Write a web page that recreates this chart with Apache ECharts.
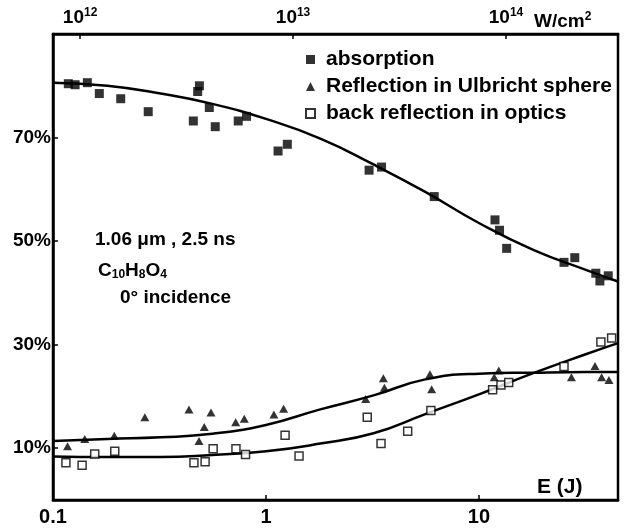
<!DOCTYPE html>
<html>
<head>
<meta charset="utf-8">
<script src="https://cdn.jsdelivr.net/npm/echarts@6/dist/echarts.min.js"></script>
<style>
  html, body { margin: 0; padding: 0; background: #fff; }
  #chart { width: 626px; height: 529px; }
</style>
</head>
<body>
<div id="chart"></div>
<script>
// ---- Data ----
const E_MIN = 0.1;            // J
const E_MAX = 45;             // J
const INTENSITY_PER_J = 7.46e12; // W/cm^2 per J (top axis scale)

const xTickValues = [0.1, 1, 10];
const topTickValues = [1e12, 1e13, 1e14];
const yTickValues = [10, 30, 50, 70];

const seriesNames = ['absorption', 'Reflection in Ulbricht sphere', 'back reflection in optics'];

const absorption = [
  [0.118, 80.4], [0.127, 80.2], [0.145, 80.6], [0.165, 78.5], [0.208, 77.5],
  [0.280, 75.0], [0.456, 73.2], [0.478, 78.9], [0.487, 80.0], [0.542, 75.8],
  [0.578, 72.1], [0.741, 73.2], [0.811, 74.1], [1.14, 67.4], [1.26, 68.7],
  [3.05, 63.7], [3.49, 64.3], [6.17, 58.6], [11.9, 54.1], [12.5, 52.1],
  [13.5, 48.6], [25.1, 45.9], [28.2, 46.8], [35.4, 43.8], [37.0, 42.3], [40.5, 43.3]
];

const reflectionUlbricht = [
  [0.117, 10.4], [0.141, 11.8], [0.194, 12.4], [0.270, 16.0], [0.435, 17.5],
  [0.485, 11.4], [0.513, 14.1], [0.552, 16.9], [0.721, 15.0], [0.791, 15.7],
  [1.09, 16.5], [1.21, 17.6], [2.94, 19.5], [3.56, 23.5], [3.60, 21.7],
  [5.89, 24.3], [6.00, 21.4], [11.8, 23.7], [12.4, 25.0], [27.2, 23.7],
  [35.1, 25.9], [37.7, 23.7], [40.8, 23.2]
];

const backReflection = [
  [0.115, 7.2], [0.137, 6.7], [0.157, 8.9], [0.195, 9.4], [0.459, 7.2],
  [0.518, 7.4], [0.565, 9.9], [0.723, 9.9], [0.802, 8.8], [1.23, 12.5],
  [1.43, 8.5], [2.99, 16.0], [3.47, 10.9], [4.63, 13.3], [5.95, 17.3],
  [11.6, 21.3], [12.7, 22.2], [13.8, 22.7], [25.1, 25.8], [37.4, 30.5], [42.0, 31.3]
];

// Hand-drawn fit curves at log-spaced energies
const absorptionFit = [
  [0.1, 80.6], [0.18, 80.0], [0.32, 78.5], [0.56, 76.5], [1.0, 73.6], [1.8, 69.8],
  [3.2, 64.8], [5.6, 59.5], [10, 53.5], [18, 48.3], [32, 44.4], [45, 42.2]
];

const reflectionFit = [
  [0.1, 11.4], [0.18, 11.8], [0.32, 12.1], [0.56, 12.8], [1.0, 14.5], [1.8, 17.5],
  [3.2, 20.2], [5.6, 23.3], [10, 24.4], [18, 24.6], [32, 24.7], [45, 24.7]
];

const backReflectionFit = [
  [0.1, 8.4], [0.18, 8.3], [0.32, 8.3], [0.56, 8.7], [1.0, 9.4], [1.8, 10.9],
  [3.2, 12.9], [5.6, 16.6], [10, 20.4], [18, 24.5], [32, 28.2], [45, 30.3]
];

// ---- Chart ----
const FONT = "'Liberation Sans', Arial, Helvetica, sans-serif";
const chart = echarts.init(document.getElementById('chart'), null, { renderer: 'canvas' });

const axisLineStyle = { color: '#000', width: 2.5 };

const option = {
  animation: false,
  backgroundColor: '#fff',
  textStyle: { fontFamily: FONT, color: '#000' },
  grid: {
    left: 53, right: 8, top: 34, bottom: 29,
    show: true, borderColor: '#000', borderWidth: 2.5, backgroundColor: 'transparent'
  },
  legend: {
    data: seriesNames,
    orient: 'vertical',
    left: 300, top: 44,
    itemWidth: 9, itemHeight: 9, itemGap: 6,
    textStyle: { fontFamily: FONT, fontSize: 21, fontWeight: 'bold', color: '#000', padding: [0, 0, 0, 6] },
    selectedMode: false
  },
  xAxis: [
    {
      type: 'log', position: 'bottom', min: E_MIN, max: E_MAX, logBase: 10,
      axisLine: { show: true, lineStyle: axisLineStyle },
      axisTick: { show: true, inside: true, length: 5, lineStyle: { color: '#000', width: 1.5 }, customValues: xTickValues },
      axisLabel: {
        customValues: xTickValues, margin: 7,
        fontFamily: FONT, fontSize: 20, fontWeight: 'bold', color: '#000',
        formatter: v => (v < 1 ? Number(v).toFixed(1) : String(Math.round(v)))
      },
      splitLine: { show: false }, minorTick: { show: false }
    },
    {
      type: 'log', position: 'top', min: E_MIN * INTENSITY_PER_J, max: E_MAX * INTENSITY_PER_J, logBase: 10,
      axisLine: { show: true, lineStyle: axisLineStyle },
      axisTick: { show: true, inside: true, length: 5, lineStyle: { color: '#000', width: 1.5 }, customValues: topTickValues },
      axisLabel: {
        customValues: topTickValues, margin: 6,
        fontFamily: FONT, fontSize: 19, fontWeight: 'bold', color: '#000',
        formatter: v => '10{sup|' + Math.round(Math.log10(v)) + '}',
        rich: { sup: { fontFamily: FONT, fontSize: 12, fontWeight: 'bold', color: '#000', padding: [0, 0, 9, 0] } }
      },
      splitLine: { show: false }, minorTick: { show: false }
    }
  ],
  yAxis: {
    type: 'value', min: 0, max: 90,
    axisLine: { show: true, lineStyle: axisLineStyle },
    axisTick: { show: true, inside: true, length: 5, lineStyle: { color: '#000', width: 1.5 }, customValues: yTickValues },
    axisLabel: {
      customValues: yTickValues, margin: 2,
      fontFamily: FONT, fontSize: 19, fontWeight: 'bold', color: '#000',
      formatter: '{value}%'
    },
    splitLine: { show: false }
  },
  series: [
    { name: 'absorption fit', type: 'line', data: absorptionFit, smooth: 0.5, symbol: 'none',
      lineStyle: { color: '#000', width: 2.5 }, z: 2, silent: true },
    { name: 'reflection fit', type: 'line', data: reflectionFit, smooth: 0.5, symbol: 'none',
      lineStyle: { color: '#000', width: 2.5 }, z: 2, silent: true },
    { name: 'back reflection fit', type: 'line', data: backReflectionFit, smooth: 0.5, symbol: 'none',
      lineStyle: { color: '#000', width: 2.5 }, z: 2, silent: true },
    { name: seriesNames[0], type: 'scatter', data: absorption, symbol: 'rect', symbolSize: 9,
      itemStyle: { color: '#000' }, z: 3 },
    { name: seriesNames[1], type: 'scatter', data: reflectionUlbricht, symbol: 'triangle', symbolSize: [9, 8],
      itemStyle: { color: '#000' }, z: 3 },
    { name: seriesNames[2], type: 'scatter', data: backReflection, symbol: 'rect', symbolSize: 8,
      itemStyle: { color: '#fff', borderColor: '#000', borderWidth: 1.5 }, z: 3 }
  ],
  graphic: [
    { type: 'text', left: 534, top: 11, z: 10,
      style: { text: 'W/cm{sup|2}', fontFamily: FONT, fontSize: 19, fontWeight: 'bold', fill: '#000',
        rich: { sup: { fontFamily: FONT, fontSize: 12, fontWeight: 'bold', fill: '#000', padding: [0, 0, 9, 0] } } } },
    { type: 'text', left: 95, top: 230, z: 10,
      style: { text: '1.06 μm , 2.5 ns', fontFamily: FONT, fontSize: 19, fontWeight: 'bold', fill: '#000' } },
    { type: 'text', left: 98, top: 261, z: 10,
      style: { text: 'C{sub|10}H{sub|8}O{sub|4}', fontFamily: FONT, fontSize: 19, fontWeight: 'bold', fill: '#000',
        rich: { sub: { fontFamily: FONT, fontSize: 12, fontWeight: 'bold', fill: '#000', padding: [8, 0, 0, 0] } } } },
    { type: 'text', left: 120, top: 288, z: 10,
      style: { text: '0° incidence', fontFamily: FONT, fontSize: 19, fontWeight: 'bold', fill: '#000' } },
    { type: 'text', left: 537, top: 477, z: 10,
      style: { text: 'E (J)', fontFamily: FONT, fontSize: 21, fontWeight: 'bold', fill: '#000' } }
  ]
};

chart.setOption(option);
</script>
</body>
</html>
